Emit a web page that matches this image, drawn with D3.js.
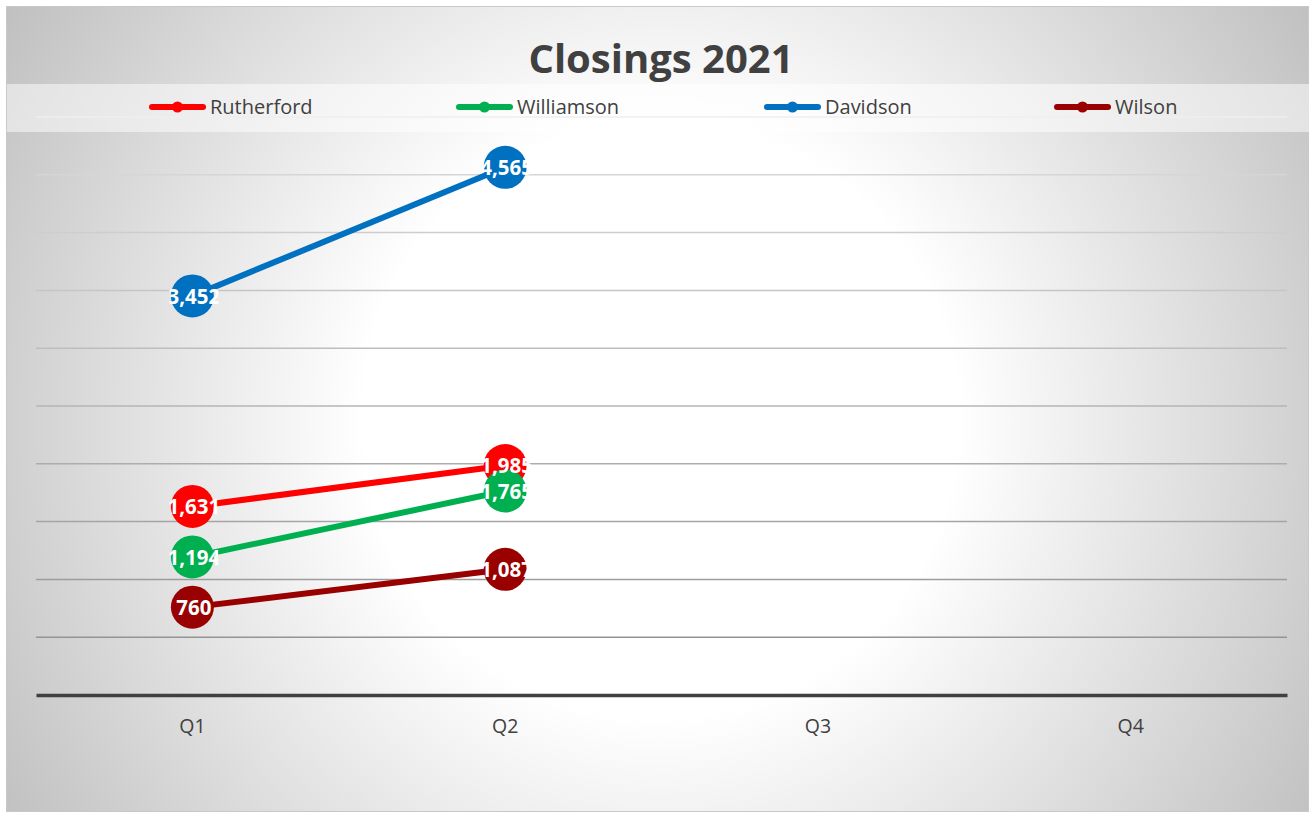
<!DOCTYPE html>
<html>
<head>
<meta charset="utf-8">
<script src="https://cdn.jsdelivr.net/npm/d3@7"></script>
<style>
  body { margin: 0; background: #fff; }
  svg { display: block; font-family: "Open Sans", sans-serif; }
</style>
</head>
<body>
<div id="chart"></div>
<script>
//
// Closings 2021
//

var quarters = ["Q1", "Q2", "Q3", "Q4"];
var seriesNames = ["Rutherford", "Williamson", "Davidson", "Wilson"];
var seriesColors = ["#ff0000", "#00b050", "#0070c0", "#990000"];
var rutherford = [1631, 1985];
var williamson = [1194, 1765];
var davidson = [3452, 4565];
var wilson = [760, 1087];
var yMax = 5000;
var yStep = 500;

var seriesValues = [rutherford, williamson, davidson, wilson];

var total_width = 1310, total_height = 813;
var plot = {left: 36, right: 1287, top: 117, bottom: 695};

var svg = d3.select("#chart").append("svg")
    .attr("width", total_width)
    .attr("height", total_height);

var defs = svg.append("defs");

// chart area background
var bg = defs.append("radialGradient")
    .attr("id", "bg")
    .attr("gradientUnits", "userSpaceOnUse")
    .attr("cx", 660).attr("cy", 420).attr("r", 780);
bg.append("stop").attr("offset", "0").attr("stop-color", "#ffffff");
bg.append("stop").attr("offset", "0.38").attr("stop-color", "#ffffff");
bg.append("stop").attr("offset", "1").attr("stop-color", "#bfbfbf");

// gridlines get darker toward the bottom
var gridGrad = defs.append("linearGradient")
    .attr("id", "gridGrad")
    .attr("gradientUnits", "userSpaceOnUse")
    .attr("x1", 0).attr("x2", 0)
    .attr("y1", plot.top).attr("y2", plot.bottom);
gridGrad.append("stop").attr("offset", "0").attr("stop-color", "#dedede");
gridGrad.append("stop").attr("offset", "1").attr("stop-color", "#8c8c8c");

svg.append("rect")
    .attr("x", 6.5).attr("y", 6.5)
    .attr("width", 1302).attr("height", 805)
    .attr("fill", "url(#bg)")
    .attr("stroke", "#c8c8c8")
    .attr("stroke-width", 1);

// scales
var x = d3.scaleBand()
    .domain(quarters)
    .range([plot.left, plot.right]);

var y = d3.scaleLinear()
    .domain([0, yMax])
    .range([plot.bottom, plot.top]);

// gridlines
var gridValues = d3.range(yStep, yMax + 1, yStep);
svg.append("g")
  .selectAll("line")
  .data(gridValues)
  .enter()
  .append("line")
    .attr("x1", plot.left)
    .attr("x2", plot.right)
    .attr("y1", d => y(d))
    .attr("y2", d => y(d))
    .attr("stroke", "url(#gridGrad)")
    .attr("stroke-width", 1.5);

// legend band
svg.append("rect")
    .attr("x", 7).attr("y", 84)
    .attr("width", 1302).attr("height", 48)
    .attr("fill", "#ffffff")
    .attr("opacity", 0.5);

// x axis
var xAxis = svg.append("g")
    .attr("transform", "translate(0," + plot.bottom + ")")
    .call(d3.axisBottom(x).tickSize(0).tickPadding(24));
xAxis.select(".domain")
    .attr("stroke", "#404040")
    .attr("stroke-width", 3.5);
xAxis.selectAll("text")
    .attr("fill", "#404040")
    .attr("font-size", "19.5px")
    .attr("font-family", "Open Sans, sans-serif");

// title
svg.append("text")
    .attr("x", 661)
    .attr("y", 73)
    .attr("text-anchor", "middle")
    .attr("font-size", "40px")
    .attr("font-weight", "bold")
    .attr("fill", "#404040")
    .text("Closings 2021");

// legend
var legendX = [150, 457, 765, 1055];
seriesNames.forEach(function(name, i) {
  var g = svg.append("g").attr("transform", "translate(" + legendX[i] + ",107)");
  g.append("line")
      .attr("x1", 2).attr("x2", 53)
      .attr("stroke", seriesColors[i])
      .attr("stroke-width", 6)
      .attr("stroke-linecap", "round");
  g.append("circle")
      .attr("cx", 27.5).attr("r", 5.5)
      .attr("fill", seriesColors[i]);
  g.append("text")
      .attr("x", 60)
      .attr("dy", "0.36em")
      .attr("font-size", "20px")
      .attr("fill", "#404040")
      .text(name);
});

// series
var line = d3.line()
    .x((d, i) => x(quarters[i]) + x.bandwidth() / 2)
    .y(d => y(d));

seriesValues.forEach(function(values, s) {
  svg.append("path")
      .datum(values)
      .attr("fill", "none")
      .attr("stroke", seriesColors[s])
      .attr("stroke-width", 6)
      .attr("d", line);

  svg.append("g")
    .selectAll("circle")
    .data(values)
    .enter()
    .append("circle")
      .attr("cx", (d, i) => x(quarters[i]) + x.bandwidth() / 2)
      .attr("cy", d => y(d))
      .attr("r", 21.5)
      .attr("fill", seriesColors[s]);
});

// data labels, clipped to the marker box like the original
var fmt = d3.format(",");
seriesValues.forEach(function(values, s) {
  values.forEach(function(v, i) {
    var cx = x(quarters[i]) + x.bandwidth() / 2, cy = y(v);
    var id = "clip" + s + "_" + i;
    defs.append("clipPath").attr("id", id)
      .append("rect")
        .attr("x", cx - 23).attr("y", cy - 22)
        .attr("width", 49).attr("height", 44);
    svg.append("text")
        .attr("clip-path", "url(#" + id + ")")
        .attr("x", cx + 1.5)
        .attr("y", cy)
        .attr("dy", "0.38em")
        .attr("text-anchor", "middle")
        .attr("font-size", "20.5px")
        .attr("font-weight", "bold")
        .attr("fill", "#ffffff")
        .text(fmt(v));
  });
});
</script>
</body>
</html>
